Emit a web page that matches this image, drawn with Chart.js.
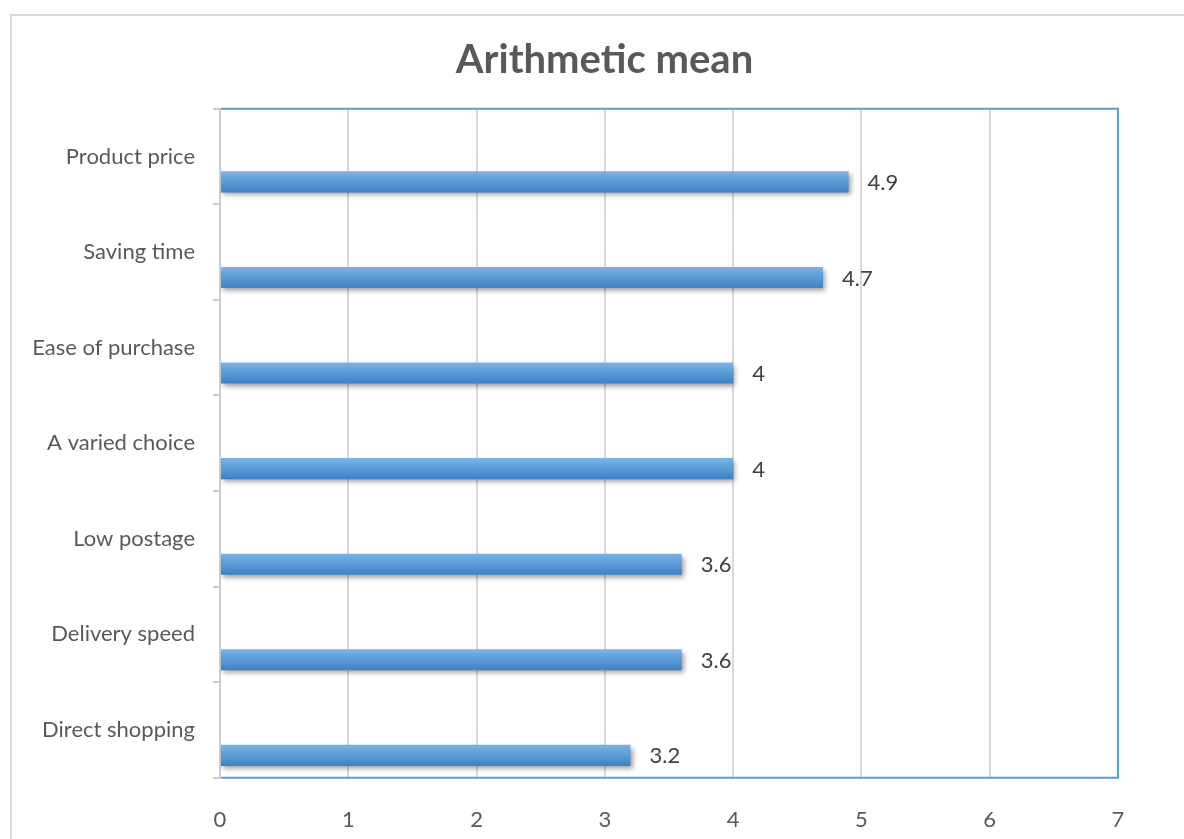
<!DOCTYPE html>
<html>
<head>
<meta charset="utf-8">
<script src="https://cdn.jsdelivr.net/npm/chart.js@4/dist/chart.umd.min.js"></script>
<style>
  html, body { margin: 0; padding: 0; background: #fff; overflow: hidden; }
  #frame { position: absolute; left: 10px; top: 14px; width: 1400px; height: 1000px;
           border-top: 2px solid #d9d9d9; border-left: 2px solid #d9d9d9; }
  #wrap { position: absolute; left: 0; top: 0; width: 1184px; height: 839px; }
</style>
</head>
<body>
<div id="frame"></div>
<div id="wrap"><canvas id="chart"></canvas></div>
<script>
// Survey factors and their arithmetic mean scores (top to bottom)
const categories = ['Product price', 'Saving time', 'Ease of purchase', 'A varied choice',
                    'Low postage', 'Delivery speed', 'Direct shopping'];
const meanValues = [4.9, 4.7, 4, 4, 3.6, 3.6, 3.2];
// Empty companion series: occupies the upper slot of each category band
const spacerValues = [null, null, null, null, null, null, null];
const xTicks = [0, 1, 2, 3, 4, 5, 6, 7];
const chartTitle = 'Arithmetic mean';

const TEXT = '#595959';
const FONT = 'Lato';
const CAT_PCT = 1.064;
const BAR_PCT = 0.415;

// Vertical gradient for each bar, built from the bar's band position
function barGradient(context) {
  const chart = context.chart;
  const yScale = chart.scales.y;
  if (!yScale || !chart.chartArea) return '#5b9bd5';
  const band = (yScale.bottom - yScale.top) / categories.length;
  const center = yScale.getPixelForValue(context.dataIndex) + band * CAT_PCT / 4;
  const half = band * CAT_PCT / 2 * BAR_PCT / 2;
  const g = chart.ctx.createLinearGradient(0, center - half, 0, center + half);
  g.addColorStop(0, '#7cb3e6');
  g.addColorStop(0.45, '#5d9dd8');
  g.addColorStop(1, '#3f80c4');
  return g;
}

// Heading centred over the whole chart box
const heading = {
  id: 'heading',
  afterDraw(chart) {
    const c = chart.ctx;
    c.save();
    c.font = 'bold 40px ' + FONT;
    c.fillStyle = TEXT;
    c.textAlign = 'center';
    c.textBaseline = 'middle';
    c.fillText(chartTitle, 604.5, 60);
    c.restore();
  }
};

// Soft drop shadow under the bars
const barShadow = {
  id: 'barShadow',
  beforeDatasetDraw(chart) {
    const c = chart.ctx;
    c.save();
    c.shadowColor = 'rgba(0,0,0,0.38)';
    c.shadowBlur = 5;
    c.shadowOffsetX = 2;
    c.shadowOffsetY = 3;
  },
  afterDatasetDraw(chart) { chart.ctx.restore(); }
};

// Value labels to the right of each bar
const valueLabels = {
  id: 'valueLabels',
  afterDatasetsDraw(chart) {
    const c = chart.ctx;
    const meta = chart.getDatasetMeta(1);
    c.save();
    c.font = '22px ' + FONT;
    c.fillStyle = '#404040';
    c.textAlign = 'left';
    c.textBaseline = 'middle';
    meta.data.forEach((el, i) => {
      c.fillText(String(meanValues[i]), el.x + 19, el.y + 1);
    });
    c.restore();
  }
};

// Blue outline on the top, right and bottom of the plot area
const plotOutline = {
  id: 'plotOutline',
  afterDraw(chart) {
    const a = chart.chartArea;
    const c = chart.ctx;
    c.save();
    c.strokeStyle = '#5b9bd5';
    c.lineWidth = 2;
    c.beginPath();
    c.moveTo(a.left + 1, a.top);
    c.lineTo(a.right, a.top);
    c.lineTo(a.right, a.bottom);
    c.lineTo(a.left + 1, a.bottom);
    c.stroke();
    c.restore();
  }
};

new Chart(document.getElementById('chart'), {
  type: 'bar',
  data: {
    labels: categories,
    datasets: [
      { label: 'spacer', data: spacerValues, backgroundColor: 'rgba(0,0,0,0)' },
      { label: chartTitle, data: meanValues, backgroundColor: barGradient, borderWidth: 0 }
    ]
  },
  options: {
    indexAxis: 'y',
    responsive: true,
    maintainAspectRatio: false,
    animation: false,
    categoryPercentage: CAT_PCT,
    barPercentage: BAR_PCT,
    layout: { padding: { left: 0, right: 66, top: 108.7, bottom: 0 } },
    plugins: {
      legend: { display: false },
      tooltip: { enabled: false },
      title: { display: false }
    },
    scales: {
      x: {
        type: 'linear',
        min: xTicks[0],
        max: xTicks[xTicks.length - 1],
        afterBuildTicks(scale) { scale.ticks = xTicks.map(v => ({ value: v })); },
        afterFit(scale) { scale.height = 61.3; },
        grid: { color: '#d9d9d9', lineWidth: 2, drawTicks: false },
        border: { display: false },
        ticks: { color: TEXT, font: { family: FONT, size: 22 }, padding: 29 }
      },
      y: {
        type: 'category',
        offset: true,
        afterFit(scale) { scale.width = 220; },
        grid: { offset: true, drawOnChartArea: false, drawTicks: true, tickLength: 7,
                color: '#c8cdd3', lineWidth: 2 },
        border: { display: true, color: '#c8cdd3', width: 2 },
        ticks: { color: TEXT, font: { family: FONT, size: 22 }, padding: 18 }
      }
    }
  },
  plugins: [barShadow, valueLabels, plotOutline, heading]
});
</script>
</body>
</html>
